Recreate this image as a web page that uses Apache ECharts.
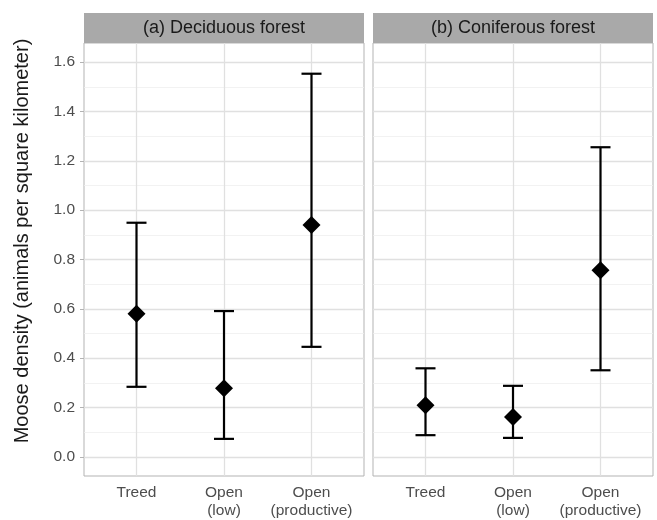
<!DOCTYPE html>
<html>
<head>
<meta charset="utf-8">
<script src="https://cdn.jsdelivr.net/npm/echarts@6/dist/echarts.min.js"></script>
<style>html,body{margin:0;padding:0;background:#fff}#c{width:657px;height:520px}</style>
</head>
<body>
<div id="c"></div>
<script>
const categories = ['Treed', 'Open\n(low)', 'Open\n(productive)'];
const panelTitles = ['(a) Deciduous forest', '(b) Coniferous forest'];
const decidMean = [0.580, 0.278, 0.940];
const decidLow  = [0.284, 0.073, 0.446];
const decidHigh = [0.949, 0.591, 1.553];
const conifMean = [0.209, 0.162, 0.756];
const conifLow  = [0.088, 0.077, 0.351];
const conifHigh = [0.359, 0.288, 1.255];
const yTicks = [0, 0.2, 0.4, 0.6, 0.8, 1.0, 1.2, 1.4, 1.6];
const yMinor = [0.1, 0.3, 0.5, 0.7, 0.9, 1.1, 1.3, 1.5];
const yTitle = 'Moose density (animals per square kilometer)';

const FONT = '"Liberation Sans", Arial, sans-serif';
const chart = echarts.init(document.getElementById('c'), null, {renderer: 'canvas'});

const panels = [
  {left: 84, mean: decidMean, low: decidLow, high: decidHigh},
  {left: 373, mean: conifMean, low: conifLow, high: conifHigh}
];
const TOP = 43, H = 436, W = 280;

function renderBar(params, api) {
  const x = api.value(0);
  const pm = api.coord([x, api.value(1)]);
  const pl = api.coord([x, api.value(2)]);
  const ph = api.coord([x, api.value(3)]);
  const cap = 10, d = 9;
  const ls = {stroke: '#000', lineWidth: 2.2};
  return {
    type: 'group',
    children: [
      {type: 'line', shape: {x1: pl[0], y1: pl[1], x2: ph[0], y2: ph[1]}, style: ls},
      {type: 'line', shape: {x1: pl[0] - cap, y1: pl[1], x2: pl[0] + cap, y2: pl[1]}, style: ls},
      {type: 'line', shape: {x1: ph[0] - cap, y1: ph[1], x2: ph[0] + cap, y2: ph[1]}, style: ls},
      {type: 'polygon', shape: {points: [[pm[0], pm[1] - d], [pm[0] + d, pm[1]], [pm[0], pm[1] + d], [pm[0] - d, pm[1]]]}, style: {fill: '#000'}}
    ]
  };
}

const grids = [], xAxes = [], yAxes = [], series = [], graphics = [];
panels.forEach((p, i) => {
  grids.push({left: p.left, top: TOP, width: W, height: H, show: true, borderColor: '#b3b3b3', borderWidth: 1, backgroundColor: '#fff'});
  xAxes.push({
    type: 'value', gridIndex: i, min: 0.4, max: 3.6,
    axisLine: {show: false},
    splitLine: {show: false},
    axisTick: {show: true, customValues: [1, 2, 3], length: 4, lineStyle: {color: '#b3b3b3', width: 1}},
    axisLabel: {customValues: [1, 2, 3], formatter: v => categories[Math.round(v) - 1],
      color: '#4d4d4d', fontSize: 15.5, fontFamily: FONT, lineHeight: 18, margin: 8}
  });
  yAxes.push({
    type: 'value', gridIndex: i, min: -0.0775, max: 1.6775,
    axisLine: {show: false},
    splitLine: {show: false},
    axisTick: {show: i === 0, customValues: yTicks, length: 4, lineStyle: {color: '#b3b3b3', width: 1}},
    axisLabel: {show: i === 0, customValues: yTicks, formatter: v => v.toFixed(1),
      color: '#4d4d4d', fontSize: 15.5, fontFamily: FONT, margin: 9}
  });
  const ml = [];
  yMinor.forEach(v => ml.push({yAxis: v, lineStyle: {color: '#efefef', width: 0.8, type: 'solid'}}));
  yTicks.forEach(v => ml.push({yAxis: v, lineStyle: {color: '#e0e0e0', width: 1.3, type: 'solid'}}));
  [1, 2, 3].forEach(v => ml.push({xAxis: v, lineStyle: {color: '#e0e0e0', width: 1.3, type: 'solid'}}));
  series.push({
    type: 'scatter', xAxisIndex: i, yAxisIndex: i, data: [], z: 1, silent: true,
    markLine: {symbol: 'none', silent: true, animation: false, label: {show: false}, data: ml}
  });
  series.push({
    type: 'custom', xAxisIndex: i, yAxisIndex: i, z: 5, animation: false,
    renderItem: renderBar,
    data: p.mean.map((m, k) => [k + 1, m, p.low[k], p.high[k]])
  });
  graphics.push({type: 'rect', shape: {x: p.left, y: 13, width: W, height: 30}, style: {fill: '#a9a9a9'}, z: 10});
  graphics.push({type: 'text', x: p.left + W / 2, y: 28, z: 11,
    style: {text: panelTitles[i], fill: '#1a1a1a', font: '18px ' + FONT, textAlign: 'center', textVerticalAlign: 'middle'}});
});
graphics.push({type: 'text', x: 22, y: 241, rotation: Math.PI / 2, z: 11,
  style: {text: yTitle, fill: '#1a1a1a', font: '20px ' + FONT, textAlign: 'center', textVerticalAlign: 'middle'}});

chart.setOption({
  animation: false,
  backgroundColor: '#fff',
  grid: grids, xAxis: xAxes, yAxis: yAxes, series: series,
  graphic: graphics
});
</script>
</body>
</html>
